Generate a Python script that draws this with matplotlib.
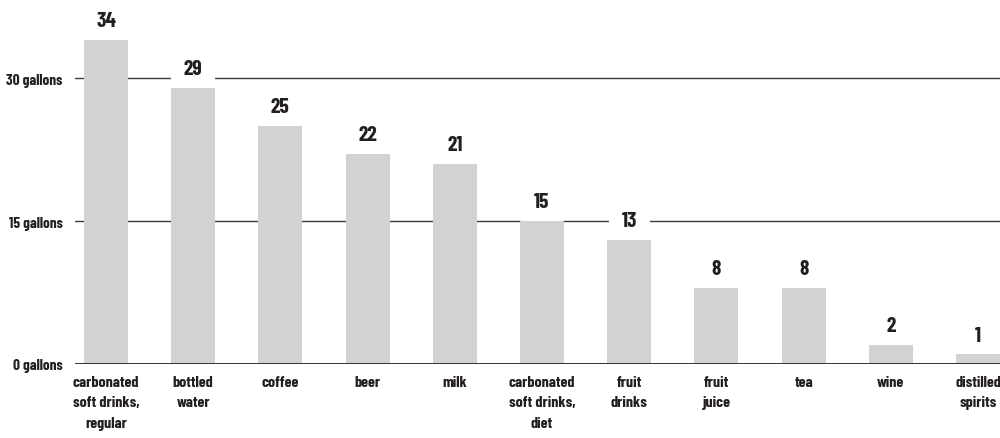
import matplotlib
matplotlib.use('Agg')
import os
import matplotlib.pyplot as plt
from matplotlib import font_manager

# Per-capita beverage consumption, gallons per year
categories = ['carbonated\nsoft drinks,\nregular', 'bottled\nwater', 'coffee', 'beer', 'milk',
              'carbonated\nsoft drinks,\ndiet', 'fruit\ndrinks', 'fruit\njuice', 'tea', 'wine',
              'distilled\nspirits']
gallons = [34, 29, 25, 22, 21, 15, 13, 8, 8, 2, 1]
ytick_values = [0, 15, 30]
ytick_labels = ['0 gallons', '15 gallons', '30 gallons']

# bold condensed face, with fallbacks
wanted = ['BarlowCondensed-Bold', 'SairaCondensed-Bold', 'FiraSansExtraCondensed-Bold',
          'RobotoCondensed-Bold', 'DejaVuSansCondensed-Bold']
files = {os.path.splitext(os.path.basename(f))[0]: f for f in font_manager.findSystemFonts()}
font_file = next((files[w] for w in wanted if w in files), None)


def fp(size):
    if font_file:
        return font_manager.FontProperties(fname=font_file, size=size)
    return font_manager.FontProperties(family='DejaVu Sans', weight='bold',
                                       stretch='condensed', size=size)


ink = '#231f20'
bar_color = '#d1d2d4'

fig = plt.figure(figsize=(10, 4.39), dpi=100)
ax = fig.add_axes([0.075, 0.1686, 0.925, 0.8314])

x = range(len(categories))
ax.bar(x, gallons, width=0.505, color=bar_color, zorder=2)

# gridlines sit behind the bars, baseline in front
for v in ytick_values[1:]:
    ax.axhline(v, color='#3a3a3a', lw=1, zorder=1)
ax.axhline(0, color=ink, lw=2, zorder=3)

# white boxes break the gridlines; bars cover their lower part
for i, v in enumerate(gallons):
    ax.annotate(str(v), (i, v), xytext=(0, 10), textcoords='offset points',
                ha='center', va='baseline', fontproperties=fp(15.5), color=ink, zorder=1.5,
                bbox=dict(boxstyle='square,pad=0.6', fc='white', ec='none'))

ax.set_xlim(-0.355, 10.252)
ax.set_ylim(0, 38.3)

ax.set_yticks(ytick_values)
ax.set_yticklabels(ytick_labels, fontproperties=fp(11), color=ink)
ax.set_xticks(list(x))
ax.set_xticklabels(categories, fontproperties=fp(11.5), color=ink, linespacing=1.58)
ax.tick_params(axis='both', length=0)
ax.tick_params(axis='y', pad=9)
ax.tick_params(axis='x', pad=8)

for s in ax.spines.values():
    s.set_visible(False)

fig.savefig('out.png', dpi=100)
